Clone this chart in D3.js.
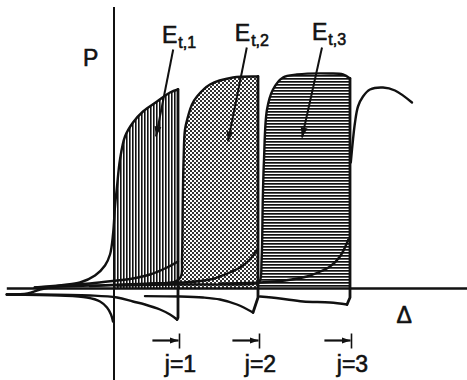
<!DOCTYPE html>
<html>
<head>
<meta charset="utf-8">
<script src="https://cdn.jsdelivr.net/npm/d3@7"></script>
<style>
  html, body { margin: 0; padding: 0; background: #fff; }
  svg { display: block; }
  text { font-family: "Liberation Sans", Arial, sans-serif; fill: #111; stroke: #111; stroke-width: 0.6px; }
</style>
</head>
<body>
<svg id="chart" width="467" height="380"></svg>
<script>
// Loop geometry in (Δ, P) units
const loopEdges = [8, 18, 29.5];        // Δ where each loop drops back
const fillStarts = [0.125, 8, 18];      // Δ where each shaded area begins
const loopIds = ["1", "2", "3"];
const stepLabels = ["j=1", "j=2", "j=3"];

// upper (rising) branches
const rise1 = [[-13.4,-0.3],[-10.8,-0.25],[-9.25,-0.05],[-6.75,0.15],[-4.25,0.3],[-2.375,0.65],[-1.125,1.15],[-0.5,1.7],[-0.125,2.7],[0.125,4.1],[0.375,5.1],[0.75,6.45],[1.375,7.6],[2.375,8.3],[3.625,8.85],[5.375,9.35],[7,9.8],[8,9.95]];
const rise2 = [[-9.9,0.05],[-3,0.15],[4.5,0.25],[7.625,0.35],[8.375,0.6],[8.5,1.45],[8.6,4.45],[8.7,6.45],[8.875,7.95],[9.25,8.6],[9.75,9.2],[10.375,9.6],[12,10.2],[14.875,10.55],[17.875,10.6],[18,10.6]];
const rise3 = [[0.4,0.15],[8.25,0.2],[17.625,0.25],[18.2,0.35],[18.45,1.45],[18.6,4.45],[18.75,6.45],[19.125,8.95],[19.875,9.95],[21.125,10.55],[22.875,10.7],[27,10.75],[28.625,10.7],[29.5,10.5]];
const rise4 = [[29.6,6.3],[29.875,7.45],[30.125,8.3],[30.5,9.1],[31.125,9.6],[32,9.95],[33.625,10.05],[35.125,9.9],[37.25,9.3]];

// return branches inside each loop
const inner1 = [[8,1.35],[6.625,1.05],[4.5,0.7],[2.375,0.5],[0.375,0.4],[-3,0.25],[-6.75,0.15],[-9.9,0.05]];
const inner2 = [[17.875,1.95],[17,1.45],[15.75,1.05],[13.875,0.7],[12,0.45],[8.625,0.3],[2.375,0.2],[-3,0.12]];
const inner3 = [[29.3,2.45],[28.25,1.6],[27,1.1],[25.5,0.8],[24.125,0.6],[21.375,0.4],[18.25,0.3],[13.25,0.25]];

// vertical drops at each loop edge
const drop1 = [[8,9.95],[8,-1.45],[7.875,-1.55]];
const drop2 = [[18,10.6],[18,-0.45],[17.375,-1.2]];
const drop3 = [[29.5,10.5],[29.5,-0.45],[29.125,-0.8]];

// negative branches below the axis
const neg0 = [[-13.4,-0.3],[-6.75,-0.35],[-3.375,-0.45],[-1.75,-0.65],[-0.875,-0.95],[-0.375,-1.3],[-0.125,-1.65]];
const neg1 = [[7.875,-1.55],[7,-1.3],[5.75,-1.05],[3.875,-0.8],[2.375,-0.65],[0.375,-0.45],[-3,-0.35],[-9.9,-0.3],[-13.4,-0.3]];
const neg2 = [[17.375,-1.2],[15.375,-0.8],[13.25,-0.55],[11.125,-0.45],[8.25,-0.4],[3.875,-0.38]];
const neg3 = [[29.125,-0.8],[27,-0.7],[23.625,-0.65],[20.75,-0.5],[18.25,-0.4]];

const rises = [rise1, rise2, rise3];

const svg = d3.select("#chart");
const x = d3.scaleLinear().domain([-13.5, 44]).range([6, 466]);
const y = d3.scaleLinear().domain([-4.575, 14.075]).range([380, 7]);

const smooth = d3.line().x(d => x(d[0])).y(d => y(d[1])).curve(d3.curveCatmullRom.alpha(0.5));
const straight = d3.line().x(d => x(d[0])).y(d => y(d[1]));
const fillArea = d3.area().x(d => x(d[0])).y0(y(0)).y1(d => y(d[1])).curve(d3.curveCatmullRom.alpha(0.5));

const defs = svg.append("defs");

// vertical hatching
const pv = defs.append("pattern").attr("id", "vhatch").attr("patternUnits", "userSpaceOnUse")
  .attr("width", 3).attr("height", 8);
pv.append("rect").attr("x", 0).attr("y", 0).attr("width", 1.6).attr("height", 8).attr("fill", "#111");

// fine checker stipple
const pc = defs.append("pattern").attr("id", "checker").attr("patternUnits", "userSpaceOnUse")
  .attr("width", 4).attr("height", 4);
pc.append("rect").attr("x", 0).attr("y", 0).attr("width", 2).attr("height", 2).attr("fill", "#333");
pc.append("rect").attr("x", 2).attr("y", 2).attr("width", 2).attr("height", 2).attr("fill", "#333");

// horizontal hatching
const ph = defs.append("pattern").attr("id", "hhatch").attr("patternUnits", "userSpaceOnUse")
  .attr("width", 8).attr("height", 3);
ph.append("rect").attr("x", 0).attr("y", 0).attr("width", 8).attr("height", 1.7).attr("fill", "#111");

const patterns = ["vhatch", "checker", "hhatch"];

// arrowheads
defs.append("marker").attr("id", "headBig").attr("viewBox", "0 0 10 10")
  .attr("refX", 10).attr("refY", 5).attr("markerWidth", 10).attr("markerHeight", 10)
  .attr("markerUnits", "userSpaceOnUse").attr("orient", "auto")
  .append("path").attr("d", "M0,1.5 L10,5 L0,8.5 Z").attr("fill", "#111");
defs.append("marker").attr("id", "headSmall").attr("viewBox", "0 0 10 10")
  .attr("refX", 10).attr("refY", 5).attr("markerWidth", 9).attr("markerHeight", 9)
  .attr("markerUnits", "userSpaceOnUse").attr("orient", "auto")
  .append("path").attr("d", "M0,1.5 L10,5 L0,8.5 Z").attr("fill", "#111");

// shaded loop areas
loopEdges.forEach((edge, i) => {
  const cid = "clip" + i;
  defs.append("clipPath").attr("id", cid).append("rect")
    .attr("x", x(fillStarts[i])).attr("y", 0)
    .attr("width", x(edge) - x(fillStarts[i])).attr("height", y(0));
  svg.append("path").attr("d", fillArea(rises[i]))
    .attr("clip-path", `url(#${cid})`)
    .attr("fill", `url(#${patterns[i]})`);
});

// axes
svg.append("line").attr("x1", x(0)).attr("x2", x(0)).attr("y1", y(14.075)).attr("y2", 380)
  .attr("stroke", "#111").attr("stroke-width", 2);
svg.append("line").attr("x1", x(-13.4)).attr("x2", 467).attr("y1", y(0)).attr("y2", y(0))
  .attr("stroke", "#111").attr("stroke-width", 2.4);

// curves
const curveGroup = svg.append("g").attr("fill", "none").attr("stroke", "#111")
  .attr("stroke-width", 2.4).attr("stroke-linejoin", "round").attr("stroke-linecap", "round");
[rise1, rise2, rise3, rise4, inner1, inner2, inner3, neg0, neg1, neg2, neg3].forEach(c => {
  curveGroup.append("path").attr("d", smooth(c));
});
[drop1, drop2, drop3].forEach(c => {
  curveGroup.append("path").attr("d", straight(c)).attr("stroke-width", 2.8);
});

// axis labels
svg.append("text").attr("x", x(-3.875)).attr("y", y(11.15)).attr("font-size", 23).text("P");
svg.append("text").attr("x", x(35.3)).attr("y", y(-1.7)).attr("font-size", 23).text("Δ");

// E_t,j labels with leader arrows
const eLabelAt = [[6, 12.3], [15.1, 12.4], [24.75, 12.45]];
const leaderFrom = [[7.4, 11.95], [16.6, 12.05], [26, 12.05]];
const leaderTo = [[5.25, 7.6], [14.25, 7.35], [23.5, 7.55]];
loopIds.forEach((id, i) => {
  const t = svg.append("text").attr("x", x(eLabelAt[i][0])).attr("y", y(eLabelAt[i][1])).attr("font-size", 23);
  t.append("tspan").text("E");
  t.append("tspan").attr("font-size", 16).attr("dy", 5).attr("dx", 1).text("t," + id);
  svg.append("line")
    .attr("x1", x(leaderFrom[i][0])).attr("y1", y(leaderFrom[i][1]))
    .attr("x2", x(leaderTo[i][0])).attr("y2", y(leaderTo[i][1]))
    .attr("stroke", "#111").attr("stroke-width", 2).attr("marker-end", "url(#headBig)");
});

// step markers j below the axis
const stepArrowP = -2.6;
loopEdges.forEach((edge, i) => {
  const xe = x(edge) + 1.5;
  svg.append("line").attr("x1", x(edge - 3.2)).attr("x2", xe - 1)
    .attr("y1", y(stepArrowP)).attr("y2", y(stepArrowP))
    .attr("stroke", "#111").attr("stroke-width", 2.2).attr("marker-end", "url(#headSmall)");
  svg.append("line").attr("x1", xe).attr("x2", xe)
    .attr("y1", y(stepArrowP) - 7).attr("y2", y(stepArrowP) + 8)
    .attr("stroke", "#111").attr("stroke-width", 1.6);
  svg.append("text").attr("x", xe + 1).attr("y", y(-4.15)).attr("text-anchor", "middle")
    .attr("font-size", 23).text(stepLabels[i]);
});
</script>
</body>
</html>
